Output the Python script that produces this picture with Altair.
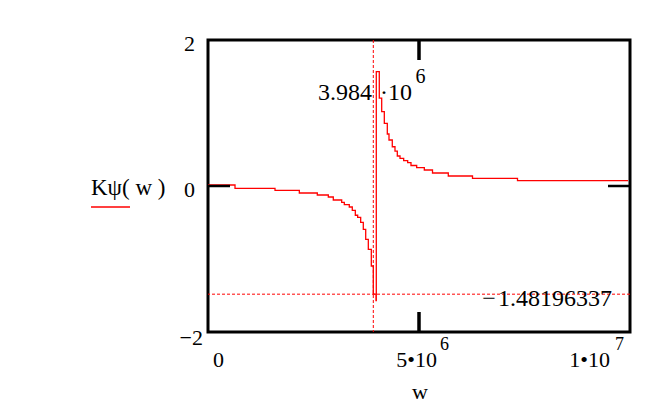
import altair as alt
import pandas as pd

# Step trace of Kpsi(w)
w_values = [0.0, 0.640e6, 1.588e6, 2.164e6, 2.590e6, 2.851e6, 2.969e6, 3.168e6,
            3.230e6, 3.348e6, 3.419e6, 3.491e6, 3.547e6, 3.618e6, 3.680e6, 3.737e6,
            3.799e6, 3.870e6, 3.917e6, 3.981e6, 3.988e6, 4.059e6, 4.116e6, 4.178e6,
            4.249e6, 4.289e6, 4.367e6, 4.431e6, 4.486e6, 4.550e6, 4.637e6, 4.732e6,
            4.810e6, 4.945e6, 5.126e6, 5.320e6, 5.694e6, 6.268e6, 7.334e6, 9.953e6]
k_values = [0.014, -0.032, -0.059, -0.096, -0.123, -0.151, -0.192, -0.223,
            -0.256, -0.288, -0.333, -0.401, -0.429, -0.497, -0.593, -0.730,
            -0.867, -1.096, -1.482, -1.571, 1.566, 1.205, 1.018, 0.859,
            0.712, 0.630, 0.538, 0.479, 0.411, 0.379, 0.347, 0.319,
            0.281, 0.253, 0.219, 0.178, 0.137, 0.105, 0.075, 0.075]

marker_w = [3.917e6]
marker_k = [-1.48196337]

x_domain = [0, 1e7]
y_domain = [-2, 2]
x_tick = [5e6]
y_tick = [0]

FONT = "'Liberation Serif', 'Times New Roman', 'DejaVu Serif', serif"
W, H = 422, 292

df = pd.DataFrame({"w": w_values, "K": k_values})
one = pd.DataFrame({"a": [0]})

xs = alt.Scale(domain=x_domain, nice=False, zero=False)
ys = alt.Scale(domain=y_domain, nice=False, zero=False)

line = alt.Chart(df).mark_line(interpolate="step-after", color="#ff0000",
                               strokeWidth=1.3).encode(
    x=alt.X("w:Q", scale=xs, axis=None),
    y=alt.Y("K:Q", scale=ys, axis=None),
)

vmark = alt.Chart(pd.DataFrame({"w": marker_w})).mark_rule(
    color="#ff0000", strokeDash=[3, 2], strokeWidth=1).encode(
    x=alt.X("w:Q", scale=xs, axis=None))
hmark = alt.Chart(pd.DataFrame({"K": marker_k})).mark_rule(
    color="#ff0000", strokeDash=[3, 2], strokeWidth=1).encode(
    y=alt.Y("K:Q", scale=ys, axis=None))

# inward ticks
tick_top = alt.Chart(one).mark_rule(color="black", strokeWidth=3.5).encode(
    x=alt.datum(x_tick[0]), y=alt.value(0), y2=alt.value(20))
tick_bot = alt.Chart(one).mark_rule(color="black", strokeWidth=3.5).encode(
    x=alt.datum(x_tick[0]), y=alt.value(H - 20), y2=alt.value(H))
tick_left = alt.Chart(one).mark_rule(color="black", strokeWidth=2.5).encode(
    y=alt.datum(y_tick[0]), x=alt.value(0), x2=alt.value(22))
tick_right = alt.Chart(one).mark_rule(color="black", strokeWidth=2.5).encode(
    y=alt.datum(y_tick[0]), x=alt.value(W - 22), x2=alt.value(W))


def txt(s, x, y, size=22, align="left", dx=0):
    return alt.Chart(one).mark_text(font=FONT, fontSize=size, align=align,
                                    baseline="alphabetic", dx=dx, color="black").encode(
        x=x, y=alt.value(y), text=alt.value(s))


texts = [
    txt("2", alt.value(-13), 11, align="right"),
    txt("0", alt.value(-13), 157, align="right"),
    txt("\u22122", alt.value(-5), 305, align="right"),
    txt("0", alt.datum(0), 327, dx=5),
    txt("5\u202210", alt.datum(5e6), 327, align="right", dx=18),
    txt("6", alt.datum(5e6), 310, size=18, dx=21),
    txt("1\u202210", alt.datum(1e7), 327, align="right", dx=-20),
    txt("7", alt.datum(1e7), 310, size=18, dx=-15),
    txt("w", alt.value(212), 359, align="center"),
    txt("K\u03c8( w )", alt.value(-117), 155, size=23),
    txt("3.984", alt.value(164), 60, size=24, align="right"),
    txt("\u00b7", alt.value(176), 60, size=24, align="center"),
    txt("10", alt.value(180), 60, size=24),
    txt("6", alt.value(207.5), 43, size=20),
    txt("\u2212", alt.value(281), 266, size=24, align="center"),
    txt("1.48196337", alt.value(404), 266, size=24, align="right"),
]

underline = alt.Chart(one).mark_rule(color="#ff0000", strokeWidth=1.5).encode(
    x=alt.value(-117), x2=alt.value(-78), y=alt.value(167))

chart = alt.layer(line, vmark, hmark, tick_top, tick_bot, tick_left, tick_right,
                  underline, *texts).properties(
    width=W, height=H,
    padding={"left": 200, "top": 32, "right": 34, "bottom": 72},
    autosize=alt.AutoSizeParams(type="none"),
    background="white",
).configure_view(stroke="black", strokeWidth=3)

chart.save("out.html", embed_options={"renderer": "svg", "actions": False})
